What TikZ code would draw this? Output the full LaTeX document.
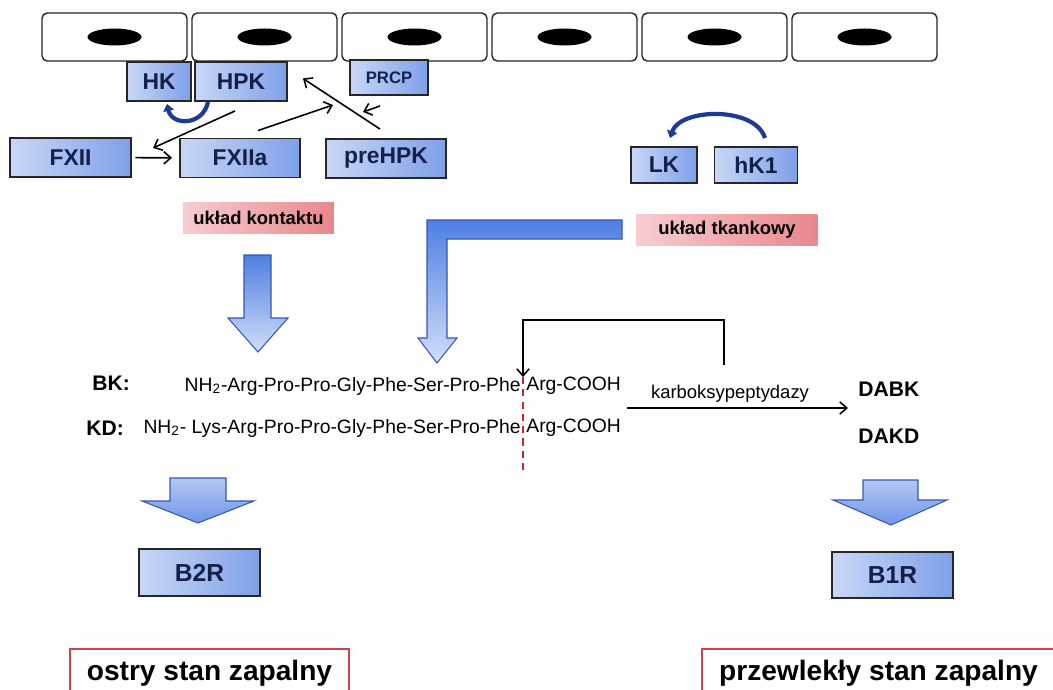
\documentclass[tikz,border=0pt]{standalone}
\usepackage{fontspec}
\setmainfont{Liberation Sans}
\usetikzlibrary{arrows.meta}
\definecolor{boxlt}{HTML}{C8D7F6}
\definecolor{boxdk}{HTML}{7FA0E8}
\definecolor{navy}{HTML}{14204A}
\definecolor{pinklt}{HTML}{F7CDD0}
\definecolor{pinkdk}{HTML}{E8878C}
\definecolor{arcblue}{HTML}{1E3A96}
\definecolor{bigdk}{HTML}{4E7FE2}
\definecolor{biglt}{HTML}{D2DEF9}
\definecolor{bigmid}{HTML}{6F95E7}
\definecolor{bigpale}{HTML}{B4C8F2}
\definecolor{bigline}{HTML}{3557B0}
\definecolor{frame}{HTML}{D2404E}
\definecolor{cutred}{HTML}{D42030}
\begin{document}
\begin{tikzpicture}[x=0.02cm,y=-0.02cm,
  cell/.style={draw=black!85,line width=0.8pt,fill=white,rounded corners=3pt},
  bluebox/.style={draw=black!85,line width=1.1pt,left color=boxlt,right color=boxdk,
    text=navy,font=\fontsize{13}{15}\selectfont\bfseries,inner sep=0pt,minimum height=0.78cm},
  pinkbox/.style={left color=pinklt,right color=pinkdk,inner sep=0pt,
    font=\fontsize{10.5}{12}\selectfont\bfseries,minimum height=0.64cm},
  redbox/.style={draw=frame,line width=0.9pt,fill=white,inner sep=0pt,
    font=\fontsize{16}{18}\selectfont\bfseries,minimum height=0.96cm},
  seq/.style={inner sep=0pt,font=\fontsize{11}{13}\selectfont},
  tag/.style={inner sep=0pt,font=\fontsize{12}{14}\selectfont\bfseries},
  link/.style={line width=0.9pt,-{Straight Barb[length=4pt,width=7pt]}},
  swing/.style={arcblue,line width=2.4pt,{Triangle[length=4pt,width=6pt]}-},
  bigarrow/.style={draw=bigline,line width=0.6pt,top color=bigdk,bottom color=biglt},
  fatarrow/.style={draw=bigline,line width=0.6pt,top color=bigpale,bottom color=bigmid}]
  \useasboundingbox (0,0) rectangle (1053,689);
  \clip (0,0) rectangle (1053,689);

  % cell layer
  \foreach \i in {0,...,5}{
    \draw[cell] ({42+150*\i},13) rectangle ({187+150*\i},61);
    \fill ({114.5+150*\i},37) ellipse (27 and 8.5);
  }

  % contact system
  \node[bluebox,minimum width=1.28cm] (hk) at (159,81.5) {HK};
  \node[bluebox,minimum width=1.84cm] (hpk) at (241,81.5) {HPK};
  \node[bluebox,minimum width=1.56cm,minimum height=0.70cm,
    font=\fontsize{9.5}{11}\selectfont\bfseries] (prcp) at (389,77.5) {PRCP};
  \node[bluebox,minimum width=2.42cm] (fxii) at (70.5,157.5) {FXII};
  \node[bluebox,minimum width=2.40cm] (fxiia) at (240,158) {FXIIa};
  \node[bluebox,minimum width=2.40cm] (prehpk) at (386,158.5) {preHPK};
  \draw[swing] ([shift={(8,2)}]hk.south) .. controls (172,126) and (203,126) .. ([shift={(-33,0)}]hpk.south);
  \coordinate (gap) at (153,148);
  \coordinate (hitA) at (333,105);
  \coordinate (hitB) at (363,112);
  \draw[link] ([shift={(-6,9)}]hpk.south) -- (gap);
  \draw[link,shorten <=2pt,shorten >=4pt] (fxii) -- (fxiia);
  \draw[link] ([shift={(18,-7)}]fxiia.north) -- (hitA);
  \draw[link] ([shift={(-6,-9)}]prehpk.north) -- ([shift={(15,-3)}]hpk.east);
  \draw[link] ([shift={(-9,10)}]prcp.south) -- (hitB);
  \node[pinkbox,minimum width=3.02cm] (contact) at (258.5,218) {układ kontaktu};

  % tissue system
  \node[bluebox,minimum width=1.32cm,minimum height=0.72cm] (lk) at (664,165) {LK};
  \node[bluebox,minimum width=1.66cm,minimum height=0.72cm] (hk1) at (756,165) {hK1};
  \draw[swing] ([shift={(6,-8)}]lk.north) .. controls (680,108) and (755,106) .. ([shift={(9,-8)}]hk1.north);
  \node[pinkbox,minimum width=3.62cm] (tissue) at (727,230) {układ tkankowy};

  % big arrows
  \shadedraw[bigarrow] (244,255) -- (271,255) -- (271,318) -- (288,318) -- (258,352)
    -- (228,318) -- (244,318) -- cycle;
  \shadedraw[bigarrow] (622,220) -- (622,239) -- (447,239) -- (447,338) -- (457,338)
    -- (437,363) -- (418,338) -- (427,338) -- (427,220) -- cycle;

  % peptides
  \node[tag,anchor=west] (bk) at (92,383) {BK:};
  \node[seq,anchor=east] (bkl) at (521,386) {NH\textsubscript{2}-Arg-Pro-Pro-Gly-Phe-Ser-Pro-Phe};
  \node[seq,anchor=west] (bkr) at (526,386) {Arg-COOH};
  \node[tag,anchor=west] (kd) at (86,428) {KD:};
  \node[seq,anchor=east] (kdl) at (521,428) {NH\textsubscript{2}- Lys-Arg-Pro-Pro-Gly-Phe-Ser-Pro-Phe};
  \node[seq,anchor=west] (kdr) at (526,428) {Arg-COOH};
  \coordinate (cuttop) at (523,377);
  \coordinate (cutbot) at (523,470);
  \draw[cutred,line width=1pt,dash pattern=on 4pt off 3pt] (cuttop) -- (cutbot);

  % carboxypeptidases
  \node[inner sep=0pt,font=\fontsize{10.5}{12}\selectfont] (kp) at (730,394) {karboksypeptydazy};
  \coordinate (cpA) at (627,408);
  \coordinate (cpB) at (848,408);
  \draw[link] (cpA) -- (cpB);
  \draw[link] ([shift={(-6,-20)}]kp.north) -- ++(0,-45) -| (cuttop);
  \node[tag,anchor=west] (dabk) at (858,389) {DABK};
  \node[tag,anchor=west] (dakd) at (858,436) {DAKD};

  % receptors
  \shadedraw[fatarrow] (170,478) -- (226,478) -- (226,501) -- (254,501) -- (198,523)
    -- (142,501) -- (170,501) -- cycle;
  \shadedraw[fatarrow] (863,480) -- (918,480) -- (918,500) -- (947,500) -- (891,525)
    -- (833,500) -- (863,500) -- cycle;
  \node[bluebox,minimum width=2.42cm,minimum height=0.94cm,
    font=\fontsize{14}{16}\selectfont\bfseries] (b2r) at (199.5,572.5) {B2R};
  \node[bluebox,minimum width=2.42cm,minimum height=0.92cm,
    font=\fontsize{14}{16}\selectfont\bfseries] (b1r) at (892.5,575) {B1R};
  \node[redbox,minimum width=5.58cm,anchor=north] (acute) at (209.5,648) {ostry stan zapalny};
  \node[redbox,minimum width=7.06cm,anchor=north] (chronic) at (878.5,648) {przewlekły stan zapalny};
\end{tikzpicture}
\end{document}
